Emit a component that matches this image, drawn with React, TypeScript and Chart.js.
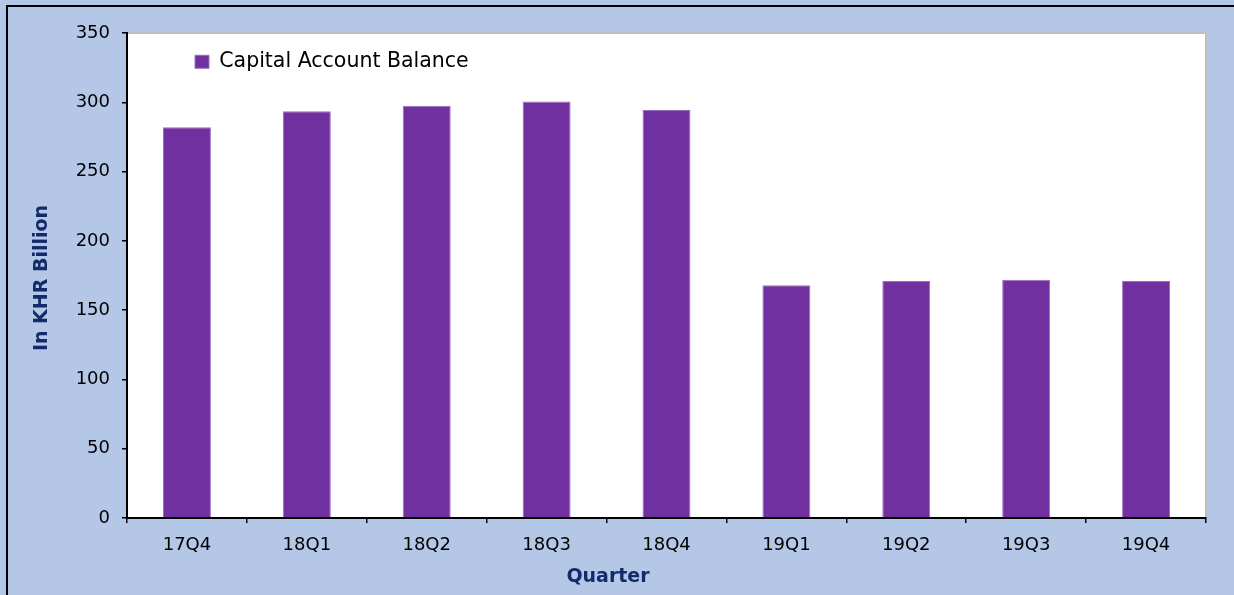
import React, { useEffect, useRef } from "react";
import { Chart, registerables } from "chart.js";

Chart.register(...registerables);

const categories = ["17Q4", "18Q1", "18Q2", "18Q3", "18Q4", "19Q1", "19Q2", "19Q3", "19Q4"];
const capitalAccountBalance = [282, 293.5, 297.5, 300.5, 294.5, 168, 171, 172, 171];
const seriesLabel = "Capital Account Balance";
const yAxisTitle = "In KHR Billion";
const xAxisTitle = "Quarter";
const yMin = 0;
const yMax = 350;
const yStep = 50;

const FONT = "'DejaVu Sans', 'Liberation Sans', Arial, sans-serif";
const TITLE_COLOR = "#132B6B";
const BG = "#B4C7E7";

const framePlugin = {
  id: "framePlugin",
  afterLayout(chart: any) {
    const lg = chart.legend;
    if (!lg) return;
    const pad = lg.options.labels.padding;
    const w = lg.width;
    const h = lg.height;
    lg.left = 195 - pad;
    lg.top = 51.5 - pad;
    lg.right = lg.left + w;
    lg.bottom = lg.top + h;
  },
  beforeDraw(chart: any) {
    const { ctx, width, height, chartArea: a } = chart;
    ctx.save();
    ctx.fillStyle = BG;
    ctx.fillRect(0, 0, width, height);
    ctx.fillStyle = "#000";
    ctx.fillRect(6, 5, width - 6, 2);
    ctx.fillRect(6, 5, 2, height - 5);
    ctx.fillStyle = "#fff";
    ctx.fillRect(a.left, a.top, a.right - a.left, a.bottom - a.top);
    ctx.strokeStyle = "#BFBFBF";
    ctx.lineWidth = 2;
    ctx.beginPath();
    ctx.moveTo(a.left, a.top);
    ctx.lineTo(a.right, a.top);
    ctx.lineTo(a.right, a.bottom);
    ctx.stroke();
    ctx.restore();
  },
  afterDraw(chart: any) {
    const { ctx, width, height } = chart;
    ctx.save();
    ctx.fillStyle = BG;
    ctx.fillRect(width - 10, 7, 10, height - 7);
    ctx.fillStyle = TITLE_COLOR;
    ctx.font = `bold 19px ${FONT}`;
    ctx.textAlign = "center";
    ctx.textBaseline = "middle";
    ctx.fillText(xAxisTitle, 608, 577);
    ctx.translate(42, 278);
    ctx.rotate(-Math.PI / 2);
    ctx.fillText(yAxisTitle, 0, 0);
    ctx.restore();
  },
};

export default function App() {
  const ref = useRef<HTMLCanvasElement | null>(null);

  useEffect(() => {
    document.body.style.margin = "0";
    document.body.style.overflow = "hidden";
    document.documentElement.style.overflow = "hidden";
    const canvas = ref.current;
    if (!canvas) return;
    const chart = new Chart(canvas, {
      type: "bar",
      data: {
        labels: categories,
        datasets: [
          {
            label: seriesLabel,
            data: capitalAccountBalance,
            backgroundColor: "#7030A0",
            borderColor: "#9A6CC6",
            borderWidth: 1,
            barPercentage: 0.4,
            categoryPercentage: 1,
          },
        ],
      },
      options: {
        responsive: false,
        animation: false,
        layout: { padding: { top: 33, right: 28, left: 0, bottom: 0 } },
        plugins: {
          legend: {
            position: "chartArea",
            align: "start",
            labels: {
              boxWidth: 14,
              boxHeight: 13,
              padding: 10,
              color: "#000",
              font: { family: FONT, size: 20.5 },
            },
          },
          tooltip: { enabled: false },
        },
        scales: {
          x: {
            grid: {
              offset: true,
              drawOnChartArea: false,
              tickLength: 5,
              color: "#000",
              lineWidth: 1.5,
            },
            border: { color: "#000", width: 2 },
            ticks: {
              color: "#000",
              font: { family: FONT, size: 18 },
              padding: 12,
              maxRotation: 0,
            },
            afterFit(s: any) {
              s.height = 77;
            },
          },
          y: {
            min: yMin,
            max: yMax,
            grid: {
              drawOnChartArea: false,
              tickLength: 5,
              color: "#000",
              lineWidth: 1.5,
            },
            border: { color: "#000", width: 2 },
            ticks: {
              stepSize: yStep,
              color: "#000",
              font: { family: FONT, size: 18 },
              padding: 12,
            },
            afterFit(s: any) {
              s.width = 127;
            },
          },
        },
      },
      plugins: [framePlugin],
    } as any);
    return () => chart.destroy();
  }, []);

  return (
    <div style={{ position: "absolute", left: 0, top: 0, width: 1234, height: 595, overflow: "hidden" }}>
      <canvas ref={ref} width={1234} height={595} style={{ display: "block" }} />
    </div>
  );
}
